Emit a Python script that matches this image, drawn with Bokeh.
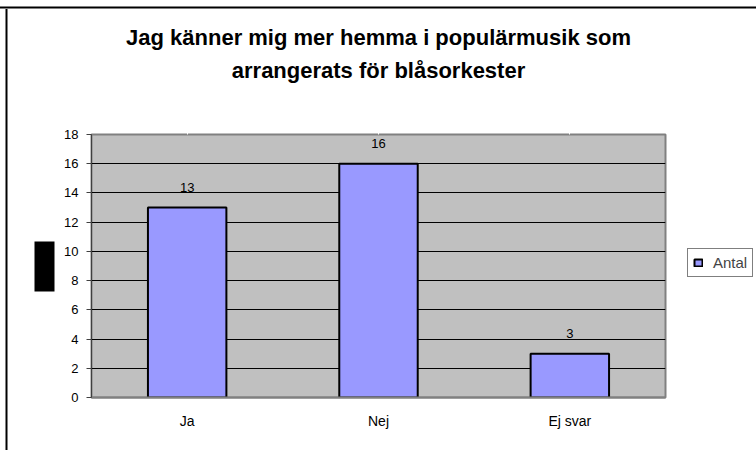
from bokeh.plotting import figure
from bokeh.models import (ColumnDataSource, LabelSet, Title, Legend, LegendItem,
                          FixedTicker, FactorRange, LinearAxis, CategoricalAxis)
from bokeh.core.properties import value
from bokeh.embed import file_html
from bokeh.resources import INLINE

categories = ["Ja", "Nej", "Ej svar"]
antal = [13, 16, 3]
y_ticks = [0, 2, 4, 6, 8, 10, 12, 14, 16, 18]
title_lines = ["Jag känner mig mer hemma i populärmusik som", "arrangerats för blåsorkester"]
series_name = "Antal"

FONT = "Liberation Sans"

src = ColumnDataSource(dict(cat=categories, val=antal, lbl=[str(v) for v in antal]))

p = figure(width=756, height=450, frame_width=574, frame_height=263,
           x_range=FactorRange(*categories), y_range=(0, 18),
           output_backend="svg", toolbar_location=None, title=None,
           min_border_left=91, min_border_right=91, min_border_top=134, min_border_bottom=53)

p.background_fill_color = "#C0C0C0"
p.border_fill_color = "white"
p.outline_line_color = "#808080"
p.outline_line_width = 2

r = p.vbar(x="cat", top="val", width=0.41, source=src, fill_color="#9999FF",
           line_color="black", line_width=2)

p.xgrid.grid_line_color = None
p.ygrid.grid_line_color = "black"
p.ygrid.grid_line_width = 1
p.ygrid.ticker = FixedTicker(ticks=y_ticks)

p.yaxis.ticker = FixedTicker(ticks=y_ticks)
p.yaxis.axis_line_color = "#404040"
p.yaxis.axis_line_width = 1
p.yaxis.major_tick_line_color = "#404040"
p.yaxis.major_tick_out = 5
p.yaxis.major_tick_in = 0
p.yaxis.minor_tick_line_color = None
p.yaxis.minor_tick_out = 0
p.yaxis.major_label_text_font = FONT
p.yaxis.major_label_text_font_size = "13px"
p.yaxis.major_label_text_color = "black"
p.yaxis.major_label_standoff = 8

p.xaxis.axis_line_color = "#808080"
p.xaxis.axis_line_width = 2
p.xaxis.major_tick_line_color = None
p.xaxis.major_tick_out = 0
p.xaxis.minor_tick_line_color = None
p.xaxis.major_label_text_font = FONT
p.xaxis.major_label_text_font_size = "14px"
p.xaxis.major_label_text_color = "black"
p.xaxis.major_label_standoff = 15

DECO = dict(axis_line_color=None, major_tick_line_cap="butt",
            minor_tick_out=0, minor_tick_in=0, minor_tick_line_color=None,
            major_label_text_color=None, major_label_text_font_size="1px",
            major_label_standoff=0)


def deco_left(tick, out, color="white", width=1):
    """Left axis drawing a single tick mark (spacer / black box / frame line)."""
    return LinearAxis(ticker=FixedTicker(ticks=[tick]), major_tick_out=out, major_tick_in=0,
                      major_tick_line_color=color, major_tick_line_width=width, **DECO)


def deco_top(out, color="white", width=1):
    """Top axis drawing only tick marks (spacer / frame line)."""
    return CategoricalAxis(major_tick_out=out, major_tick_in=0,
                           major_tick_line_color=color, major_tick_line_width=width, **DECO)


# left side: spacer, black box, spacer, frame line
p.add_layout(deco_left(5, 7), "left")
p.add_layout(deco_left(8.966, 20, color="black", width=50), "left")
p.add_layout(deco_left(5, 27), "left")
p.add_layout(deco_left(11.464, 2, color="black", width=441), "left")

# top side: spacer, titles, spacer, frame line
p.add_layout(deco_top(49), "above")
p.add_layout(Title(text=title_lines[1], align="center", standoff=6,
                   text_font=FONT, text_font_size="22px", text_font_style="bold",
                   text_color="black"), "above")
p.add_layout(Title(text=title_lines[0], align="center", standoff=6,
                   text_font=FONT, text_font_size="22px", text_font_style="bold",
                   text_color="black"), "above")
p.add_layout(deco_top(11), "above")
p.add_layout(deco_top(2, color="black", width=760), "above")

labels = LabelSet(x="cat", y="val", text="lbl", source=src, y_offset=16,
                  text_align="center", text_baseline="alphabetic",
                  text_font=value(FONT), text_font_size=value("13px"), text_color="black")
p.add_layout(labels)

legend = Legend(items=[LegendItem(label=series_name, renderers=[r])],
                location=(22, 120), border_line_color="black", border_line_width=1,
                background_fill_color="white", padding=5, margin=0,
                glyph_width=10, glyph_height=9, label_standoff=10,
                label_text_font=FONT, label_text_font_size="15px",
                label_height=12)
p.add_layout(legend, "right")

open("out.html", "w").write(file_html(p, INLINE))
